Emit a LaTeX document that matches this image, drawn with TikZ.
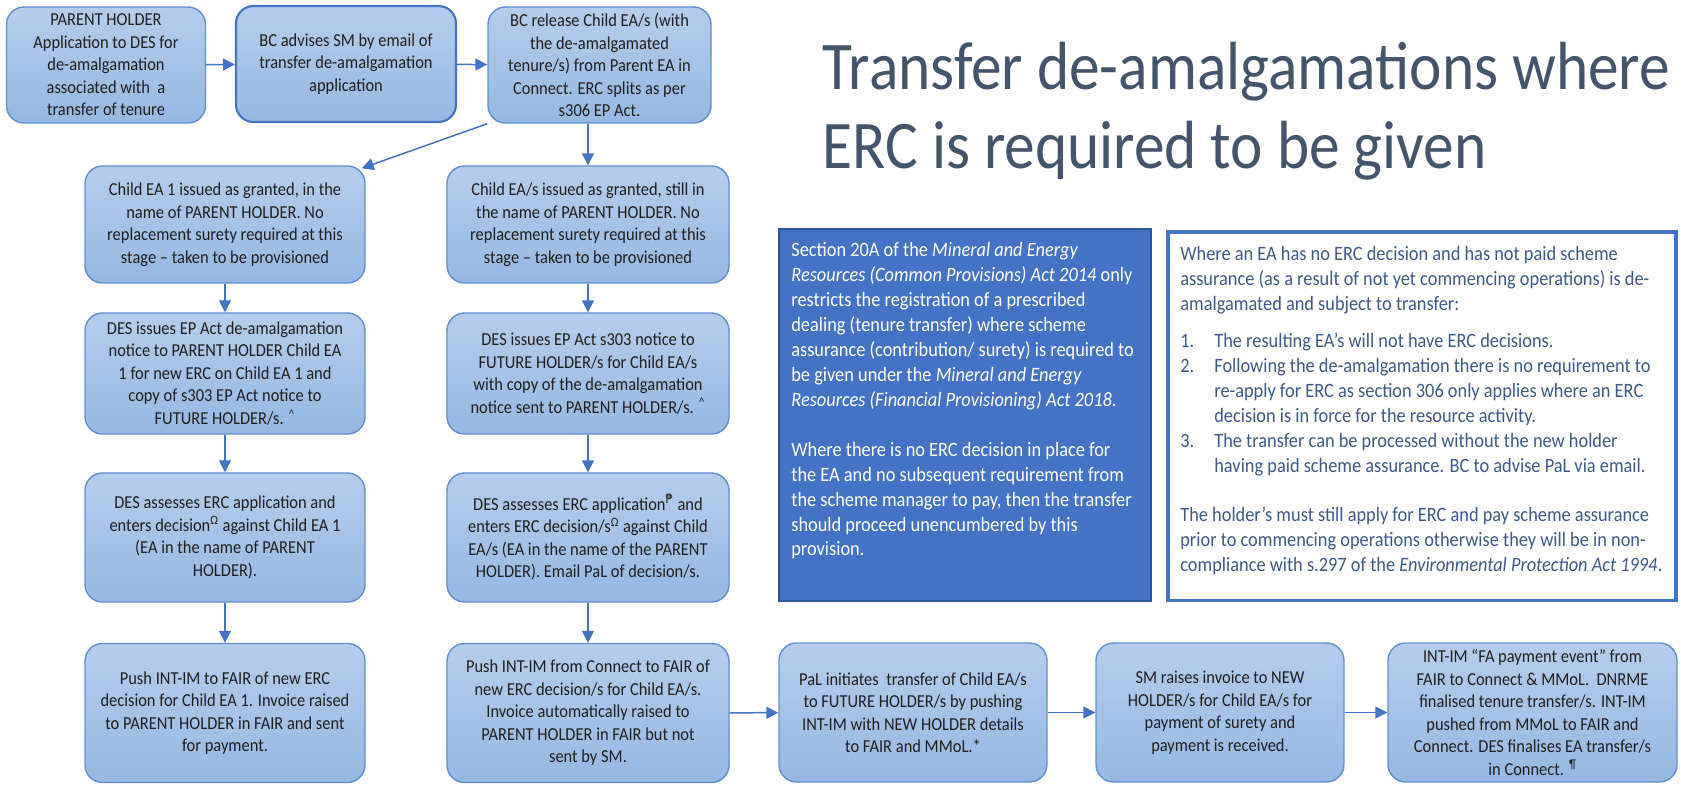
\documentclass[tikz,border=0pt]{standalone}
\usepackage{fontspec}
\setmainfont{Carlito}[FakeStretch=0.9]
\newfontfamily\dejavu{DejaVu Sans}[FakeStretch=0.9]
\usetikzlibrary{arrows.meta}
\definecolor{hellblau}{RGB}{181,205,236}
\definecolor{mittelblau}{RGB}{149,184,226}
\definecolor{rahmen}{RGB}{98,142,208}
\definecolor{blau}{RGB}{68,114,196}
\definecolor{dunkelblau}{RGB}{47,85,151}
\definecolor{titelgrau}{RGB}{68,84,106}
\definecolor{notizblau}{RGB}{62,88,138}

\tikzset{
  box/.style={draw=rahmen, line width=0.8pt, rounded corners=0.35cm, top color=hellblau, bottom color=mittelblau, align=center, text=black!88, font=\fontsize{10.4}{12.8}\selectfont, inner sep=2pt},
  oben/.style={box, minimum height=2.32cm},
  links/.style={box, minimum width=5.6cm},
  rechts/.style={box, minimum width=5.64cm},
  unten/.style={box, minimum height=2.78cm},
  pfeil/.style={->, draw=blau, line width=0.85pt},
  notiz/.style={anchor=north west, align=left, inner sep=0pt, font=\fontsize{11.6}{14.2}\selectfont},
}

\begin{document}
\begin{tikzpicture}[>={Triangle[length=6.8pt, width=6.8pt]}]
\useasboundingbox (0, 0) rectangle (33.62, -15.7);

% top row
\node[oben, minimum width=3.98cm] (antrag) at (2.12, -1.3) {PARENT HOLDER\\Application to DES for\\de-amalgamation\\associated with\ \ a\\transfer of tenure};
\node[oben, draw=blau, line width=1.2pt, minimum width=4.4cm] (advise) at (6.92, -1.28) {BC advises SM by email of\\transfer de-amalgamation\\application};
\node[oben, minimum width=4.46cm] (release) at (11.99, -1.3) {BC release Child EA/s (with\\the de-amalgamated\\tenure/s) from Parent EA in\\Connect. ERC splits as per\\s306 EP Act.};

% title
\node[anchor=base west, align=left, inner sep=0pt, text=titelgrau, font=\fontsize{38.8}{44.6}\selectfont] (titel) at (16.45, -3.36) {Transfer de-amalgamations where\\ERC is required to be given};

% left column
\node[links, minimum height=2.34cm] (l1) at (4.5, -4.49) {Child EA 1 issued as granted, in the\\name of PARENT HOLDER. No\\replacement surety required at this\\stage -- taken to be provisioned};
\node[links, minimum height=2.42cm] (l2) at (4.5, -7.47) {DES issues EP Act de-amalgamation\\notice to PARENT HOLDER Child EA\\1 for new ERC on Child EA 1 and\\copy of s303 EP Act notice to\\FUTURE HOLDER/s. \textsuperscript{\textasciicircum}};
\node[links, minimum height=2.58cm] (l3) at (4.5, -10.75) {DES assesses ERC application and\\enters decision\textsuperscript{Ω} against Child EA 1\\(EA in the name of PARENT\\HOLDER).};
\node[links, unten] (l4) at (4.5, -14.26) {Push INT-IM to FAIR of new ERC\\decision for Child EA 1. Invoice raised\\to PARENT HOLDER in FAIR and sent\\for payment.};

% right column
\node[rechts, minimum height=2.34cm] (r1) at (11.76, -4.49) {Child EA/s issued as granted, still in\\the name of PARENT HOLDER. No\\replacement surety required at this\\stage -- taken to be provisioned};
\node[rechts, minimum height=2.42cm] (r2) at (11.76, -7.47) {DES issues EP Act s303 notice to\\FUTURE HOLDER/s for Child EA/s\\with copy of the de-amalgamation\\notice sent to PARENT HOLDER/s. \textsuperscript{\textasciicircum}};
\node[rechts, minimum height=2.58cm] (r3) at (11.76, -10.75) {DES assesses ERC application\textsuperscript{\dejavu ₱} and\\enters ERC decision/s\textsuperscript{Ω} against Child\\EA/s (EA in the name of the PARENT\\HOLDER). Email PaL of decision/s.};
\node[rechts, unten] (r4) at (11.76, -14.26) {Push INT-IM from Connect to FAIR of\\new ERC decision/s for Child EA/s.\\Invoice automatically raised to\\PARENT HOLDER in FAIR but not\\sent by SM.};

% bottom row
\node[unten, minimum width=5.36cm] (pal) at (18.26, -14.25) {PaL initiates\ \ transfer of Child EA/s\\to FUTURE HOLDER/s by pushing\\INT-IM with NEW HOLDER details\\to FAIR and MMoL.*};
\node[unten, minimum width=4.96cm] (sm) at (24.4, -14.25) {SM raises invoice to NEW\\HOLDER/s for Child EA/s for\\payment of surety and\\payment is received.};
\node[unten, minimum width=5.78cm] (fa) at (30.65, -14.25) {INT-IM “FA payment event” from\\FAIR to Connect \& MMoL.\ \ DNRME\\finalised tenure transfer/s. INT-IM\\pushed from MMoL to FAIR and\\Connect. DES finalises EA transfer/s\\in Connect. \textsuperscript{¶}};

% notes
\node[draw=dunkelblau, fill=blau, line width=1.2pt, minimum width=7.44cm, minimum height=7.44cm] (abschnitt) at (19.3, -8.3) {};
\node[notiz, text=white] (abschnitttext) at (15.82, -4.84) {Section 20A of the \textit{Mineral and Energy}\\\textit{Resources (Common Provisions) Act 2014} only\\restricts the registration of a prescribed\\dealing (tenure transfer) where scheme\\assurance (contribution/ surety) is required to\\be given under the \textit{Mineral and Energy}\\\textit{Resources (Financial Provisioning) Act 2018}.\\[14.2pt]Where there is no ERC decision in place for\\the EA and no subsequent requirement from\\the scheme manager to pay, then the transfer\\should proceed unencumbered by this\\provision.};
\node[draw=blau, fill=white, line width=2pt, minimum width=10.16cm, minimum height=7.37cm] (ausnahme) at (28.44, -8.32) {};
\node[notiz, text=notizblau] (ausnahmetext) at (23.6, -4.92) {Where an EA has no ERC decision and has not paid scheme\\assurance (as a result of not yet commencing operations) is de-\\amalgamated and subject to transfer:\\[6.8pt]\makebox[0.68cm][l]{1.}The resulting EA’s will not have ERC decisions.\\\makebox[0.68cm][l]{2.}Following the de-amalgamation there is no requirement to\\\hspace*{0.68cm}re-apply for ERC as section 306 only applies where an ERC\\\hspace*{0.68cm}decision is in force for the resource activity.\\\makebox[0.68cm][l]{3.}The transfer can be processed without the new holder\\\hspace*{0.68cm}having paid scheme assurance. BC to advise PaL via email.\\[14.2pt]The holder’s must still apply for ERC and pay scheme assurance\\prior to commencing operations otherwise they will be in non-\\compliance with s.297 of the \textit{Environmental Protection Act 1994}.};

% connectors
\draw[pfeil] (antrag) -- (advise);
\draw[pfeil] (advise) -- (release);
\draw[pfeil] (release.south west) -- ([shift={(-0.08, -0.06)}]l1.north east);
\draw[pfeil] (release.south -| r1) -- (r1);
\draw[pfeil] (l1) -- (l2);
\draw[pfeil] (l2) -- (l3);
\draw[pfeil] (l3) -- (l4);
\draw[pfeil] (r1) -- (r2);
\draw[pfeil] (r2) -- (r3);
\draw[pfeil] (r3) -- (r4);
\draw[pfeil] (r4) -- (pal);
\draw[pfeil] (pal) -- (sm);
\draw[pfeil] (sm) -- (fa);
\end{tikzpicture}
\end{document}
